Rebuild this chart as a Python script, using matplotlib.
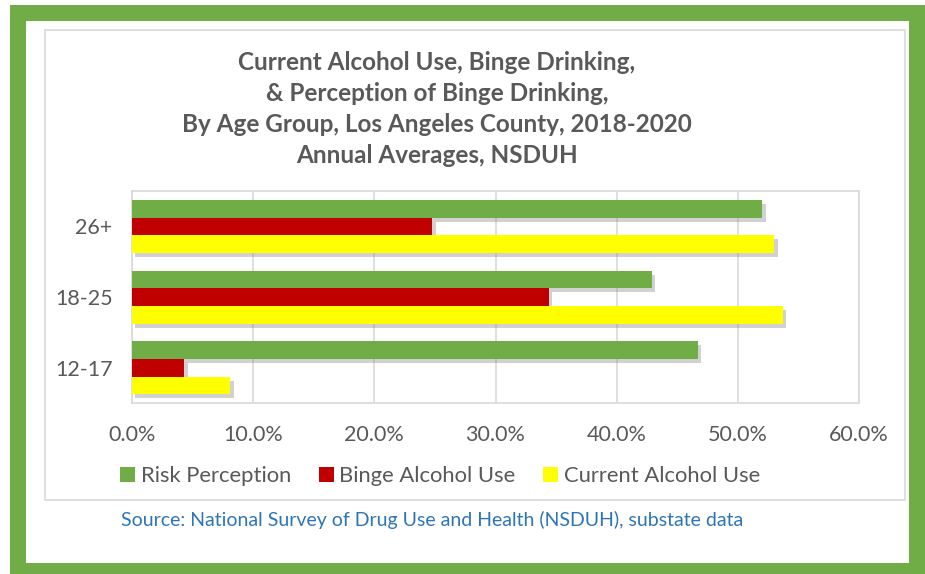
import matplotlib
matplotlib.use("Agg")
import matplotlib.pyplot as plt
from matplotlib.patches import Rectangle, Patch
import matplotlib.patheffects as pe
from matplotlib.ticker import FuncFormatter

plt.rcParams['font.family'] = ['Lato', 'DejaVu Sans']

age_groups = ["12-17", "18-25", "26+"]
risk_perception = [46.7, 42.9, 52.0]
binge_alcohol = [4.3, 34.4, 24.8]
current_alcohol = [8.1, 53.7, 53.0]

series_names = ["Risk Perception", "Binge Alcohol Use", "Current Alcohol Use"]
series_colors = ["#70AD47", "#C00000", "#FFFF00"]
x_ticks = [0, 10, 20, 30, 40, 50, 60]

W, H = 925, 574
fig = plt.figure(figsize=(W / 100, H / 100), dpi=100)
fig.patch.set_facecolor("white")


def px_rect(x0, y0, x1, y1, **kw):
    """Rectangle given in pixel coordinates measured from the top-left."""
    return Rectangle((x0 / W, 1 - y1 / H), (x1 - x0) / W, (y1 - y0) / H,
                     transform=fig.transFigure, **kw)


# green frame with white panel inside
fig.add_artist(px_rect(10, 5, 925, 574, facecolor="#70AD47", edgecolor="none", zorder=0))
fig.add_artist(px_rect(26, 21, 909, 563, facecolor="white", edgecolor="none", zorder=0))
# light chart border
fig.add_artist(px_rect(45, 30, 905, 500, facecolor="none", edgecolor="#D9D9D9", lw=1.2, zorder=1))

ax = fig.add_axes([132 / W, 1 - 403 / H, (859 - 132) / W, (403 - 191) / H])
ax.set_facecolor("none")

bar_h = 0.25
offsets = [bar_h, 0.0, -bar_h]
shadow = [pe.SimplePatchShadow(offset=(2.5, -3), shadow_rgbFace="#8C8C8C", alpha=0.4),
          pe.Normal()]
for vals, off, col in zip([risk_perception, binge_alcohol, current_alcohol], offsets, series_colors):
    ys = [i + off for i in range(len(age_groups))]
    bars = ax.barh(ys, vals, height=bar_h, color=col, edgecolor="none", zorder=3)
    for b in bars:
        b.set_path_effects(shadow)

ax.set_xlim(0, 60)
ax.set_ylim(-0.5, 2.5)
ax.set_xticks(x_ticks)
ax.xaxis.set_major_formatter(FuncFormatter(lambda v, p: f"{v:.1f}%"))
ax.set_yticks(range(len(age_groups)))
ax.set_yticklabels(age_groups)
ax.grid(axis="x", color="#D9D9D9", lw=1.2, zorder=0)
ax.set_axisbelow(True)
for s in ax.spines.values():
    s.set_color("#D9D9D9")
    s.set_linewidth(1.2)
ax.tick_params(axis="both", length=0, labelsize=15.5, labelcolor="#595959")
ax.tick_params(axis="x", pad=16)
ax.tick_params(axis="y", pad=14)

title = ("Current Alcohol Use, Binge Drinking,\n"
         "& Perception of Binge Drinking,\n"
         "By Age Group, Los Angeles County, 2018-2020\n"
         "Annual Averages, NSDUH")
fig.text(437 / W, 1 - 109 / H, title, ha="center", va="center", fontsize=17.5,
         fontweight="bold", color="#595959", linespacing=1.42)

handles = [Patch(facecolor=c, edgecolor="none") for c in series_colors]
fig.legend(handles, series_names, loc="center", bbox_to_anchor=(440 / W, 1 - 476 / H),
           ncol=3, frameon=False, fontsize=15.8, labelcolor="#595959",
           handlelength=0.7, handleheight=0.7, handletextpad=0.25, columnspacing=1.25)

fig.text(432 / W, 1 - 520 / H,
         "Source: National Survey of Drug Use and Health (NSDUH), substate data",
         ha="center", va="center", fontsize=14, color="#2E75B6")

fig.savefig("out.png", dpi=100)
